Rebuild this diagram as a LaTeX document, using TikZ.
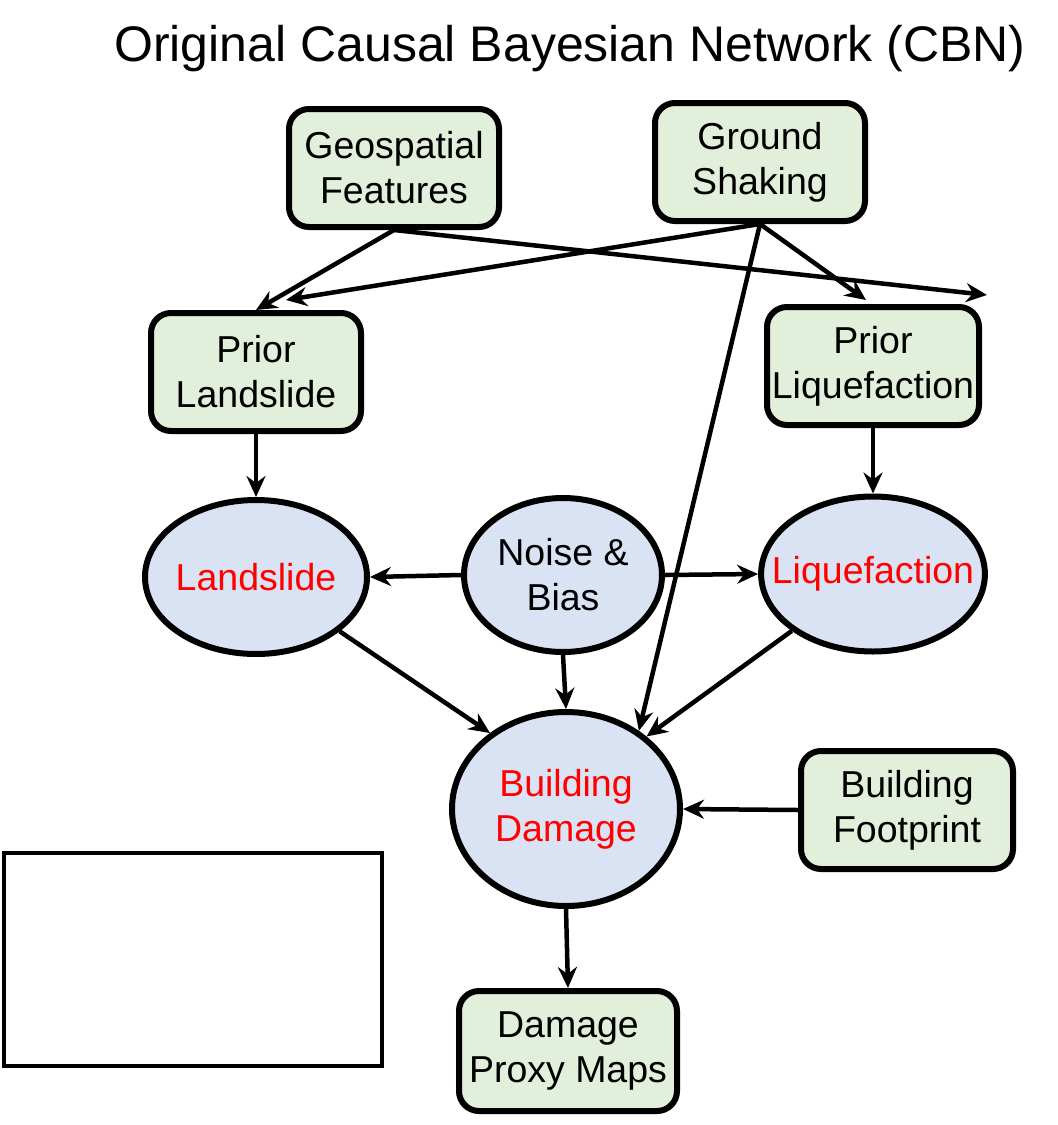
\documentclass[tikz,border=0pt]{standalone}
\usepackage{fontspec}
\setmainfont{Liberation Sans}
\usetikzlibrary{arrows.meta,calc,shapes.geometric}
\definecolor{boxgreen}{HTML}{E2EFDA}
\definecolor{ellblue}{HTML}{DAE3F3}
\definecolor{txtred}{HTML}{FF0000}
\begin{document}
\begin{tikzpicture}[x=1pt,y=-1pt,
  every node/.style={font=\fontsize{37.5}{45}\selectfont, align=center, inner sep=0pt},
  gbox/.style={draw=black, line width=6pt, fill=boxgreen, rounded corners=20pt,
    minimum width=210pt, minimum height=118pt},
  ell/.style={draw=black, line width=6pt, fill=ellblue, ellipse, inner xsep=-22pt},
  redtxt/.style={text=txtred},
  conn/.style={line width=4.5pt, -{Stealth[length=21pt,width=19pt,inset=7pt]}}
]
\useasboundingbox (0,0) rectangle (1058,1125);
\node (title) at (570,49) {\fontsize{50}{58}\selectfont Original Causal Bayesian Network (CBN)};

\node[gbox] (geo) at (394,168) {Geospatial\\Features};
\node[gbox] (gnd) at (760,162) {Ground\\Shaking};
\node[gbox] (pland) at (256,372) {Prior\\Landslide};
\node[gbox, minimum width=212pt] (prliq) at (873,366) {Prior\\Liquefaction};
\node[ell, redtxt, minimum width=222pt, minimum height=154pt] (land) at (256,577) {Landslide};
\node[ell, minimum width=198pt, minimum height=154pt] (noise) at (563,575) {Noise \&\\Bias};
\node[ell, redtxt, minimum width=222pt, minimum height=155pt] (liq) at (873,574) {Liquefaction};
\node[ell, redtxt, minimum width=228pt, minimum height=194pt] (bd) at (566,809) {Building\\Damage};
\node[gbox, minimum width=212pt] (fp) at (907,810) {Building\\Footprint};
\node[gbox, minimum width=218pt, minimum height=120pt] (dpm) at (568,1051) {Damage\\Proxy Maps};
\node[draw=black, line width=4pt, minimum width=378pt, minimum height=213pt] (empty) at (192.5,959) {};

\coordinate (geoend) at ($(prliq.north east)+(5,-9)$);
\coordinate (gndend) at ($(pland.north)+(30,-10)$);
\draw[conn] (geo.south) -- (pland.north);
\draw[conn] (geo.south) -- (geoend);
\draw[conn] (gnd.south) -- (gndend);
\draw[conn] (gnd.south) -- ($(prliq.north)+(-7,-4)$);
\draw[conn] (gnd.south) -- (bd.47);
\draw[conn] (pland.south) -- (land.north);
\draw[conn] (prliq.south) -- (liq.north);
\draw[conn] (noise.west) -- (land.east);
\draw[conn] (noise.east) -- (liq.west);
\draw[conn] (noise.south) -- (bd.north);
\draw[conn] (land.-33) -- (bd.135);
\draw[conn] (liq.-145) -- (bd.42);
\draw[conn] (fp.west) -- (bd.east);
\draw[conn] (bd.south) -- (dpm.north);
\end{tikzpicture}
\end{document}
